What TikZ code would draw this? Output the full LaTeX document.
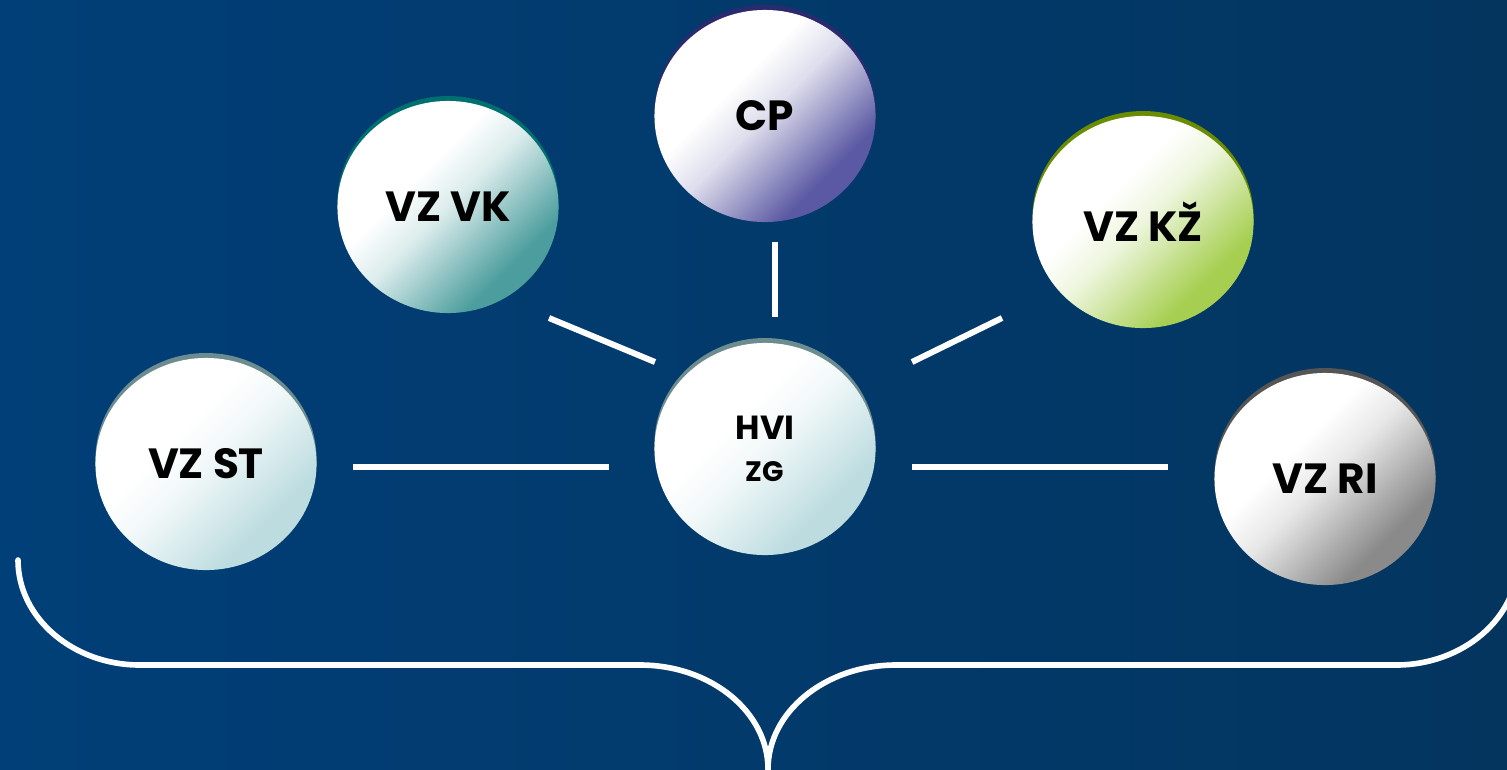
\documentclass[tikz,border=0pt]{standalone}
\usepackage{fontspec}
\setmainfont{Poppins}
\usetikzlibrary{shapes.geometric}

\definecolor{bgleft}{HTML}{013F78}
\definecolor{bgright}{HTML}{03355F}
\definecolor{cpcol}{HTML}{5B59A3}
\definecolor{cprim}{HTML}{2B2A6E}
\definecolor{vkcol}{HTML}{4C9E9E}
\definecolor{vkrim}{HTML}{00706E}
\definecolor{kzcol}{HTML}{A6CF52}
\definecolor{kzrim}{HTML}{6A8C00}
\definecolor{zgcol}{HTML}{BCDCE0}
\definecolor{zgrim}{HTML}{6C8C90}
\definecolor{ricol}{HTML}{8A8A8A}
\definecolor{ririm}{HTML}{555555}
\colorlet{shadecol}{white}

\pgfdeclareverticalshading[shadecol]{bubbleshade}{100bp}{color(0bp)=(shadecol);
  color(30bp)=(shadecol); color(50bp)=(shadecol!20!white); color(60bp)=(white);
  color(100bp)=(white)}

\tikzset{
  bubble/.style 2 args={ellipse, minimum width=2.21cm, minimum height=2.12cm, inner sep=0pt,
    /utils/exec={\colorlet{shadecol}{#1}}, shading=bubbleshade, shading angle=45,
    preaction={fill=#2, transform canvas={yshift=1.4pt}},
    font=\bfseries\fontsize{12}{13}\selectfont, align=center},
  link/.style={white, line width=1.7pt},
  bracket/.style={white, line width=1.6pt, line cap=round}
}

\begin{document}
\begin{tikzpicture}[x=0.01cm, y=-0.01cm]
\shade[left color=bgleft, right color=bgright] (0,0) rectangle (1507,769);
\useasboundingbox (0,0) rectangle (1507,769);
\clip (0,0) rectangle (1507,769);

\node[bubble={cpcol}{cprim}] (cp)  at (765,116)  {CP};
\node[bubble={vkcol}{vkrim}] (vk)  at (448,207)  {VZ VK};
\node[bubble={kzcol}{kzrim}] (kz)  at (1143,222) {VZ KŽ};
\node[bubble={zgcol}{zgrim}] (st)  at (206,464)  {VZ ST};
\node[bubble={zgcol}{zgrim}] (hvi) at (765,449)
  {\fontsize{9.5}{11.4}\selectfont HVI\\[-1pt]\fontsize{8}{9}\selectfont ZG};
\node[bubble={ricol}{ririm}] (ri)  at (1325,479) {VZ RI};

\draw[link, shorten <=3.6mm, shorten >=4.5mm] (st.east |- 0,467) -- (hvi.west |- 0,467);
\draw[link, shorten <=3.6mm, shorten >=4.6mm] (hvi.east |- 0,467) -- (ri.west |- 0,467);
\draw[link] ([shift={(101,111)}]vk.center) -- ([shift={(-110,-87)}]hvi.center);
\draw[link] ([shift={(10,19)}]cp.south) -- ([shift={(10,-25)}]hvi.north);
\draw[link] ([shift={(-141,96)}]kz.center) -- ([shift={(147,-87)}]hvi.center);

% bracket under the bubbles
\coordinate (bl) at (18,560);
\coordinate (bm) at (768,769);
\coordinate (br) at (1518,560);
\draw[bracket] (bl) .. controls (18,618) and (73,665) .. (140,665) -- (640,665)
  .. controls (711,665) and (768,712) .. (bm);
\draw[bracket] (bm) .. controls (768,712) and (825,665) .. (896,665) -- (1396,665)
  .. controls (1463,665) and (1518,618) .. (br);

\end{tikzpicture}
\end{document}
